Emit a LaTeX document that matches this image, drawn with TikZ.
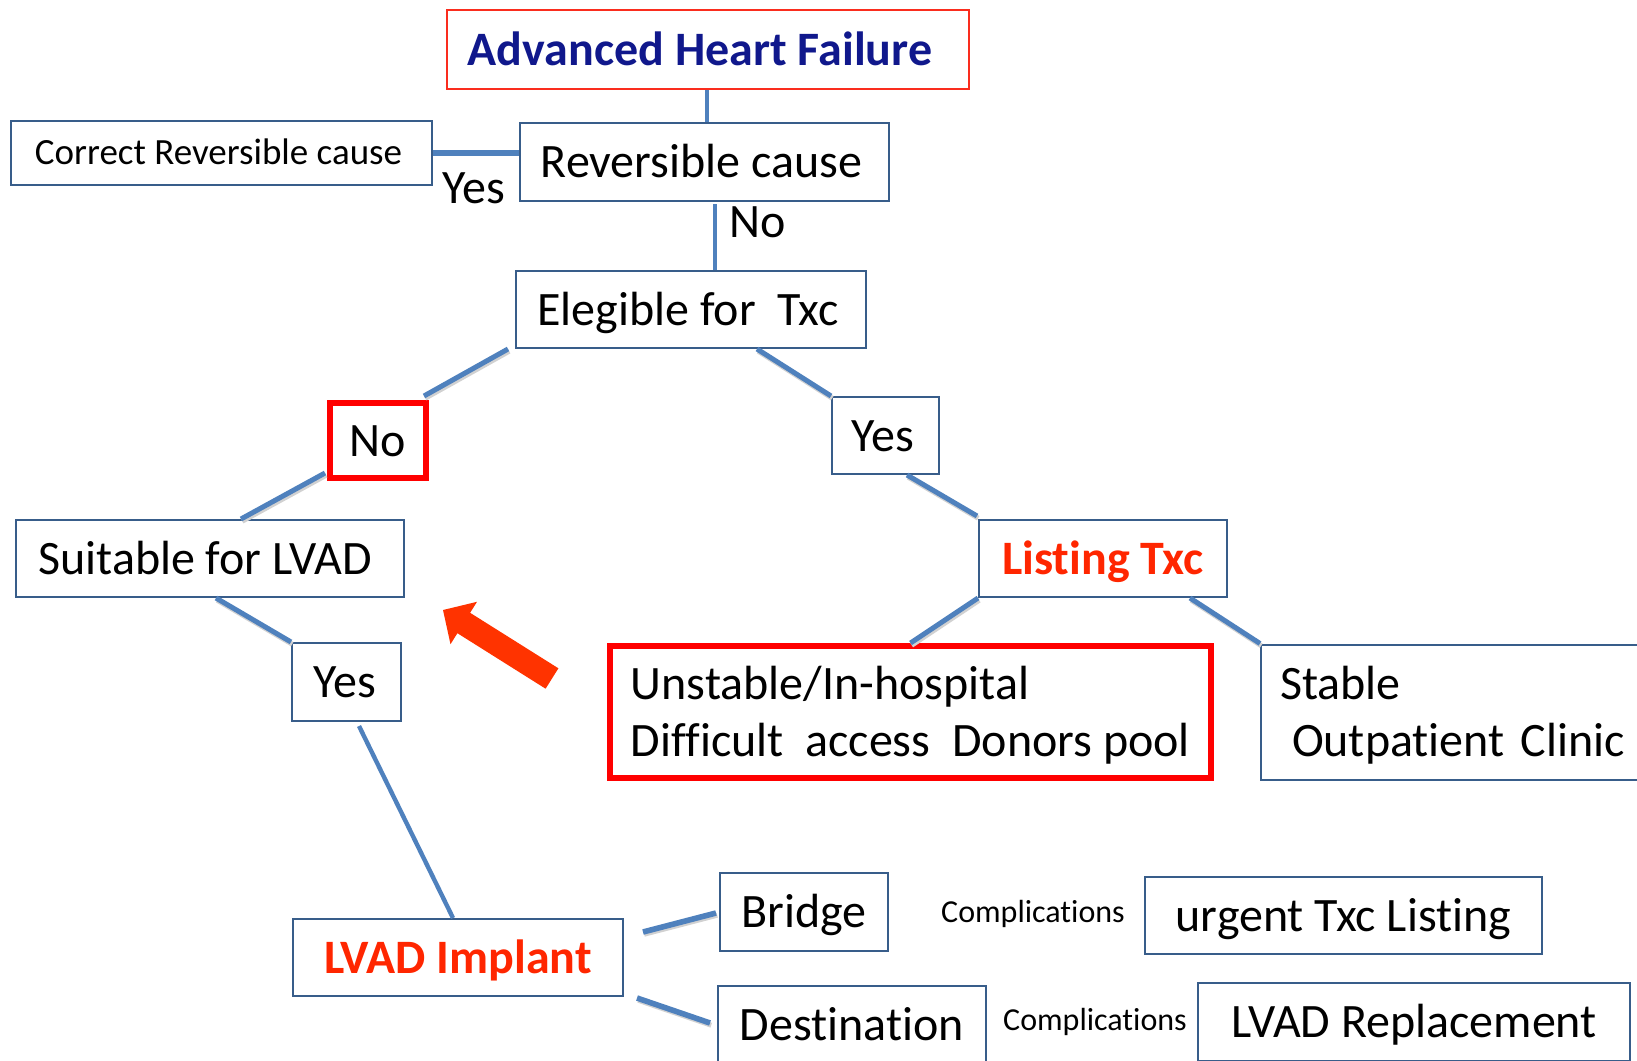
\documentclass[tikz,border=0pt]{standalone}
\usepackage{fontspec}
\setmainfont{Carlito}[Ligatures=NoCommon]
\usetikzlibrary{calc}

\definecolor{boxblue}{HTML}{385D8A}
\definecolor{linkblue}{HTML}{4F81BD}
\definecolor{navytext}{RGB}{16,24,140}
\definecolor{alertred}{RGB}{255,38,0}
\definecolor{arrowred}{HTML}{FF3300}
\definecolor{framered}{HTML}{FF0000}
\definecolor{thinred}{RGB}{250,45,30}

\tikzset{
  big/.style={font=\fontsize{24}{28.5}\selectfont, text height=15.5pt, text depth=0pt},
  mid/.style={font=\fontsize{18.5}{22}\selectfont, text height=11.9pt, text depth=0pt},
  small/.style={font=\fontsize{16}{19}\selectfont, text height=10.3pt, text depth=0pt},
  twoline/.style={align=left, text height=44pt, text depth=0pt},
  % fixed-width paragraph boxes hang from their first line
  twolinewide/.style={align=left, text height=15.5pt, text depth=28.5pt},
  box/.style={draw=boxblue, line width=1pt, fill=white, inner sep=0pt, big},
  redbox/.style={draw=framered, line width=3pt, fill=white, inner sep=0pt, big},
  lbl/.style={inner sep=0pt, big},
  conn/.style={draw=linkblue, line width=2.5pt},
  sconn/.style={conn, preaction={draw=black!18, line width=2.5pt,
      transform canvas={shift={(0.6pt,-1.1pt)}}}},
}

\begin{document}
\begin{tikzpicture}[x=0.5pt,y=-0.5pt]
\path[use as bounding box] (0,0) rectangle (1637,1060);
\clip (0,0) rectangle (1637,1060);
\fill[white] (0,0) rectangle (1637,1060);

% decision boxes
\node[box, draw=thinred, minimum width=261pt, minimum height=39.5pt,
      text=navytext, font=\fontsize{24}{28.5}\selectfont\bfseries] (adv) at (708,49.5) {Advanced Heart Failure\hspace*{8pt}};
\node[box, minimum width=184.5pt, minimum height=39pt] (rev) at (704.5,162) {Reversible cause\hspace*{3pt}};
\node[box, mid, minimum width=210.5pt, minimum height=32pt] (corr) at (221.5,153) {Correct Reversible cause\hspace*{3pt}};
\node[box, minimum width=175pt, minimum height=38.5pt] (eleg) at (691,309.5) {Elegible for\ \ Txc\hspace*{3pt}};
\node[redbox, minimum width=48pt, minimum height=37.5pt] (no) at (378,440.5) {No};
\node[box, minimum width=194pt, minimum height=38.5pt] (suit) at (210,558.5) {Suitable for LVAD\hspace*{5pt}};
\node[box, minimum width=54.5pt, minimum height=39pt] (yesL) at (346.5,682) {Yes\hspace*{2pt}};
\node[box, minimum width=53.5pt, minimum height=38.5pt] (yesR) at (885.5,435.5) {Yes\hspace*{3pt}};
\node[box, minimum width=124pt, minimum height=38.5pt,
      text=alertred, font=\fontsize{24}{28.5}\selectfont\bfseries] (list) at (1103,558.5) {Listing Txc};
\node[redbox, twoline, minimum width=300.5pt, minimum height=66pt] (unst) at (910.5,712)
      {Unstable/In-hospital\\Difficult\ \ access\ \ Donors pool};
\node[box, twolinewide, anchor=west, text width=191pt, inner xsep=9.5pt, minimum height=67.5pt] (stab) at (1260,712)
      {Stable\\\hspace*{6pt}Outpatient Clinic};
\node[box, minimum width=165pt, minimum height=38.5pt,
      text=alertred, font=\fontsize{24}{28.5}\selectfont\bfseries] (lvad) at (458,957.5) {LVAD Implant};
\node[box, minimum width=84pt, minimum height=39pt] (bridge) at (804,912) {Bridge};
\node[box, minimum width=134pt, minimum height=39pt] (dest) at (852,1025) {Destination};
\node[box, minimum width=198.5pt, minimum height=38.5pt] (urg) at (1343.5,915.5) {urgent Txc Listing};
\node[box, minimum width=216pt, minimum height=39pt] (repl) at (1414,1022) {LVAD Replacement};

% free labels
\node[lbl] (yes0) at (474,188) {Yes};
\node[lbl] (no0) at (758,222) {No};
\node[inner sep=0pt, small] (comp1) at (1033,912) {Complications};
\node[inner sep=0pt, small] (comp2) at (1095,1020) {Complications};

% connectors
\draw[conn, line width=2.2pt] ($(adv.south)+(-1,0)$) coordinate (a1) -- (a1 |- rev.north);
\draw[conn, line width=3pt] (corr.east) -- (corr.east -| rev.west);
\draw[conn, line width=2.2pt] ($(rev.south)+(10.5,2)$) coordinate (r1) -- (r1 |- eleg.north);
\draw[sconn] ($(eleg.south west)+(-7,0)$) -- ($(no.north east)+(-5,-4)$);
\draw[sconn] ($(no.south west)+(-2,-8)$) -- ($(suit.north)+(31,0)$);
\draw[sconn] ($(suit.south)+(6,0)$) -- (yesL.north west);
\draw[conn, line width=2.2pt] ($(yesL.south)+(12.5,4)$) -- ($(lvad.north)+(-5,0)$);
\draw[sconn] ($(eleg.south)+(66,0)$) -- (yesR.north west);
\draw[sconn] ($(yesR.south)+(21.5,0)$) -- ($(list.north west)+(-1,-3)$);
\draw[sconn] (list.south west) -- (unst.north);
\draw[sconn] ($(list.south)+(87,0)$) -- (stab.north west);
\draw[sconn, line width=2.8pt] ($(lvad.east)+(19,-25.5)$) -- ($(bridge.west)+(-3,1)$);
\draw[sconn, line width=2.8pt] ($(lvad.south east)+(13,1)$) -- ($(dest.west)+(-7,-2)$);

% block arrow pointing back to the LVAD branch
\fill[arrowred] (443,610) -- (477,601.8) -- (470.1,612.8) -- (558.4,668.3)
   -- (545.6,688.7) -- (457.4,633.2) -- (450.5,644.2) -- cycle;
\end{tikzpicture}
\end{document}
